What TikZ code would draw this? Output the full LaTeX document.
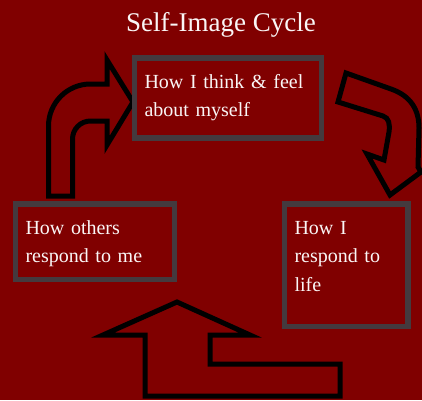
\documentclass[tikz,border=0pt]{standalone}
\usepackage{fontspec}
\setmainfont{Liberation Serif}
\definecolor{bgred}{RGB}{128,0,0}
\definecolor{boxgrey}{RGB}{68,58,62}
\definecolor{txtwhite}{RGB}{250,246,246}

\begin{document}
\begin{tikzpicture}[x=1pt,y=1pt,
        cyclebox/.style={draw=boxgrey,line width=5.5pt,outer sep=0pt,text=txtwhite,anchor=north west,align=left,
            inner xsep=10pt,inner ysep=15pt,text height=15pt,font=\fontsize{20}{28.5}\selectfont},
        bigarrow/.style={draw=black,line width=5pt,miter limit=10}]
    \fill[bgred] (0,0) rectangle (422,400);
    \useasboundingbox (0,0) rectangle (422,400);
    \node[text=txtwhite,font=\fontsize{27}{30}\selectfont,anchor=base] (title) at (221,369) {Self-Image Cycle};
    % arrows
    \draw[bigarrow] (48.5,204) -- (48.5,274) arc[start angle=180,end angle=90,radius=42] -- (107,316) -- (107,340)
        -- (133,298) -- (107,255) -- (107,279) -- (90.5,279) arc[start angle=90,end angle=180,radius=18] -- (72.5,204) -- cycle;
    \draw[bigarrow] (346,327) -- (391,311) .. controls (411,304) and (419,290) .. (419,272) -- (418,233) -- (421,228)
        -- (390,205) -- (367,246) -- (384,240) -- (389,268) .. controls (390,276) and (389,282) .. (383,284) -- (338,298) -- cycle;
    \draw[bigarrow] (177,98) -- (250,65) -- (210,65) -- (210,36) -- (340,36) -- (340,4) -- (145,4) -- (145,65) -- (103,65) -- cycle;
    % boxes
    \node[cyclebox,text width=167pt,text depth=35pt] (think) at (134.5,342) {How I think \& feel\\about myself};
    \node[cyclebox,text width=139pt,text depth=30.5pt] (others) at (15.5,196) {How others\\respond to me};
    \node[cyclebox,text width=103.5pt,text depth=77.5pt] (respond) at (284.5,196) {How I\\respond to\\life};
\end{tikzpicture}
\end{document}
